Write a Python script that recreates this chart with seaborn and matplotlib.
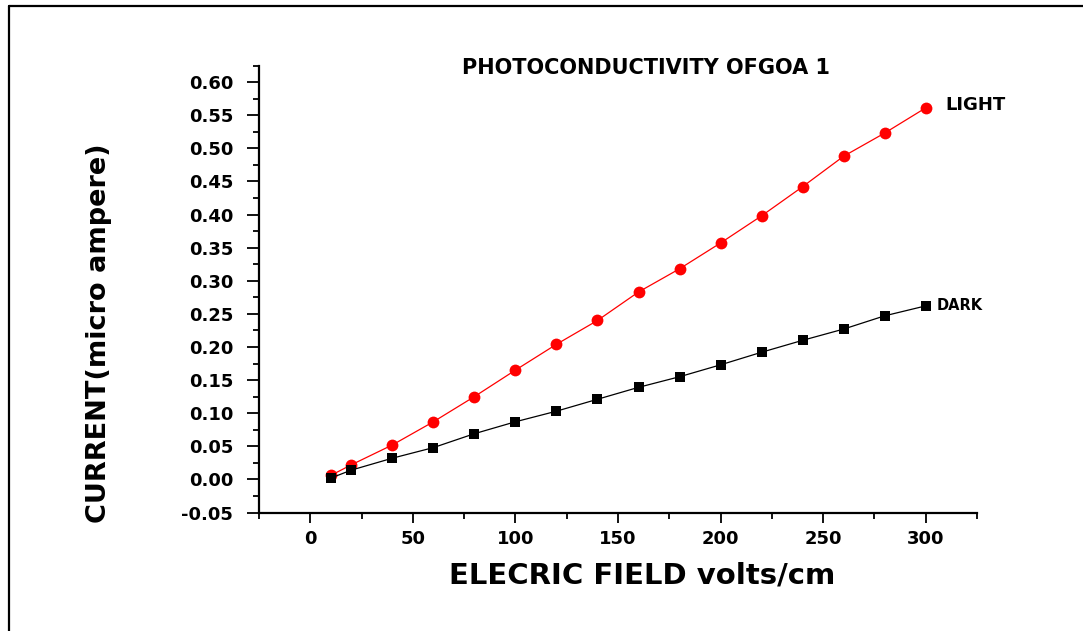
import matplotlib
matplotlib.use("Agg")
import matplotlib.pyplot as plt
from matplotlib.lines import Line2D
from matplotlib.ticker import MultipleLocator, FormatStrFormatter
import numpy as np
import pandas as pd
import seaborn as sns

# Electric field (volts/cm) and measured current (micro ampere)
field = [10, 20, 40, 60, 80, 100, 120, 140, 160, 180, 200, 220, 240, 260, 280, 300]
light_current = [0.006, 0.022, 0.052, 0.087, 0.125, 0.165, 0.204, 0.240,
                 0.283, 0.318, 0.357, 0.398, 0.442, 0.488, 0.523, 0.561]
dark_current = [0.002, 0.014, 0.032, 0.048, 0.069, 0.087, 0.103, 0.121,
                0.139, 0.155, 0.173, 0.192, 0.210, 0.227, 0.247, 0.262]
series_names = ["LIGHT", "DARK"]

title_text = "PHOTOCONDUCTIVITY OFGOA 1"
x_label = "ELECRIC FIELD volts/cm"
y_label = "CURRENT(micro ampere)"

sns.set_style("white")
plt.rcParams["font.family"] = ["DejaVu Sans"]
plt.rcParams["font.weight"] = "bold"
plt.rcParams["axes.unicode_minus"] = False
plt.rcParams["text.color"] = "black"
plt.rcParams["axes.labelcolor"] = "black"
plt.rcParams["xtick.color"] = "black"
plt.rcParams["ytick.color"] = "black"

W, H = 1083, 631
fig = plt.figure(figsize=(W / 100, H / 100), dpi=100)
fig.patch.set_facecolor("white")

# plot area in pixels: x 259..977, y 65.5..512.5 (from top)
ax = fig.add_axes([259 / W, 1 - 512.5 / H, (977 - 259) / W, (512.5 - 65.5) / H])
ax.set_facecolor("white")

df = pd.DataFrame({
    "field": field * 2,
    "current": light_current + dark_current,
    "series": [series_names[0]] * len(field) + [series_names[1]] * len(field),
})

sns.lineplot(data=df[df.series == "LIGHT"], x="field", y="current", ax=ax,
             color="#ff0000", linewidth=0.9, marker="o", markersize=8.5,
             markeredgewidth=0, markerfacecolor="#ff0000", legend=False)
sns.lineplot(data=df[df.series == "DARK"], x="field", y="current", ax=ax,
             color="black", linewidth=0.9, marker="s", markersize=7.3,
             markeredgewidth=0, markerfacecolor="black", legend=False)

ax.set_xlim(-25, 325)
ax.set_ylim(-0.05, 0.625)
ax.xaxis.set_major_locator(MultipleLocator(50))
ax.xaxis.set_minor_locator(MultipleLocator(25))
ax.yaxis.set_major_locator(MultipleLocator(0.05))
ax.yaxis.set_minor_locator(MultipleLocator(0.025))
ax.yaxis.set_major_formatter(FormatStrFormatter("%.2f"))

for side in ["top", "right"]:
    ax.spines[side].set_visible(False)
for side in ["left", "bottom"]:
    ax.spines[side].set_linewidth(1.6)
    ax.spines[side].set_color("black")

ax.tick_params(which="both", bottom=True, left=True, top=False, right=False)
ax.tick_params(which="major", direction="out", length=8.5, width=1.3,
               color="black", labelsize=13, labelcolor="black", pad=10)
ax.tick_params(which="minor", direction="out", length=4.5, width=1.3,
               color="black")
ax.tick_params(axis="x", which="major", length=7.5, pad=5)
ax.tick_params(axis="x", which="minor", length=4.5)
for lab in ax.get_xticklabels() + ax.get_yticklabels():
    lab.set_fontweight("bold")

ax.set_xlabel(x_label, fontsize=21, fontweight="bold", color="black")
ax.set_ylabel(y_label, fontsize=19.5, fontweight="bold", color="black")
ax.xaxis.set_label_coords((642 - 259) / 718, (512.5 - 562) / 447)
ax.yaxis.set_label_coords((112 - 259) / 718, (512.5 - 333) / 447)

# series names beside the last points
ax.annotate(series_names[0], xy=(field[-1], light_current[-1]),
            xytext=(14, 2), textcoords="offset points",
            ha="left", va="center", fontsize=13, fontweight="bold", color="black")
ax.annotate(series_names[1], xy=(field[-1], dark_current[-1]),
            xytext=(7.5, 0), textcoords="offset points",
            ha="left", va="center", fontsize=10.5, fontweight="bold", color="black")

fig.text(646 / W, 1 - 68 / H, title_text, ha="center", va="center",
         fontsize=15, fontweight="bold", color="black")

# outer frame (left and top edges)
fig.add_artist(Line2D([9 / W, 9 / W], [0, 1 - 5.5 / H], transform=fig.transFigure,
                      color="black", linewidth=1.6))
fig.add_artist(Line2D([9 / W, 1], [1 - 5.5 / H, 1 - 5.5 / H], transform=fig.transFigure,
                      color="black", linewidth=1.6))

fig.savefig("out.png", dpi=100, facecolor="white")
